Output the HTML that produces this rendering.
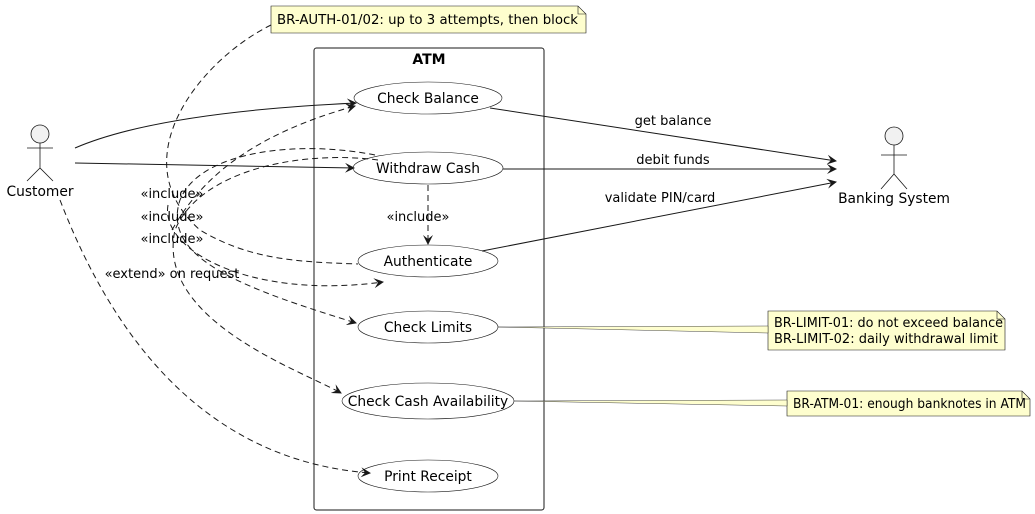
<!DOCTYPE html>
<html><head><meta charset="utf-8"><style>
body{margin:0;background:#fff;}
svg{display:block;font-family:"DejaVu Sans","Liberation Sans",sans-serif;}
</style></head><body>
<svg width="1035" height="514" viewBox="0 0 1035 514" xmlns="http://www.w3.org/2000/svg">
<defs>
<marker id="a" viewBox="0 0 10 10" refX="9" refY="5" markerWidth="10" markerHeight="10" orient="auto" markerUnits="userSpaceOnUse"><path d="M0,0 L10,5 L0,10 L4,5 Z" fill="#181818"/></marker>
</defs>
<rect x="314" y="48" width="230" height="462" rx="2.5" fill="none" stroke="#181818" stroke-width="1"/>
<text x="429" y="64" font-size="14" font-weight="bold" text-anchor="middle">ATM</text>
<path d="M271,6 H578 L586,14 V33 H271 Z" fill="#fefece" stroke="#181818" stroke-width="0.6"/>
<path d="M578,6 V14 H586" fill="none" stroke="#181818" stroke-width="0.6"/>
<text x="277" y="24" font-size="13" textLength="301" lengthAdjust="spacingAndGlyphs">BR-AUTH-01/02: up to 3 attempts, then block</text>
<path d="M768,311 H997 L1005,319 V350 H768 Z" fill="#fefece" stroke="#181818" stroke-width="0.6"/>
<path d="M997,311 V319 H1005" fill="none" stroke="#181818" stroke-width="0.6"/>
<text x="774" y="327" font-size="13" textLength="229" lengthAdjust="spacingAndGlyphs">BR-LIMIT-01: do not exceed balance</text>
<text x="774" y="343" font-size="13" textLength="224" lengthAdjust="spacingAndGlyphs">BR-LIMIT-02: daily withdrawal limit</text>
<path d="M787,391 H1022 L1030,399 V416 H787 Z" fill="#fefece" stroke="#181818" stroke-width="0.6"/>
<path d="M1022,391 V399 H1030" fill="none" stroke="#181818" stroke-width="0.6"/>
<text x="793" y="408" font-size="13" textLength="233" lengthAdjust="spacingAndGlyphs">BR-ATM-01: enough banknotes in ATM</text>
<path d="M498,327 L768,326 L768,333 Z" fill="#fefece" stroke="#181818" stroke-width="0.4"/>
<path d="M514,401 L787,400 L787,406 Z" fill="#fefece" stroke="#181818" stroke-width="0.4"/>
<g fill="#fff" stroke="#181818" stroke-width="0.6">
<ellipse cx="428" cy="98" rx="74" ry="16"/>
<ellipse cx="428" cy="168" rx="75" ry="16"/>
<ellipse cx="428" cy="261" rx="70" ry="16"/>
<ellipse cx="428" cy="327" rx="70" ry="16"/>
<ellipse cx="428" cy="401" rx="86" ry="18"/>
<ellipse cx="428" cy="476" rx="70" ry="16"/>
</g>
<g font-size="13.8" text-anchor="middle">
<text x="428" y="103">Check Balance</text>
<text x="428" y="173">Withdraw Cash</text>
<text x="428" y="266">Authenticate</text>
<text x="428" y="332">Check Limits</text>
<text x="428" y="406">Check Cash Availability</text>
<text x="428" y="481">Print Receipt</text>
</g>
<g fill="none" stroke="#181818" stroke-width="0.8">
<circle cx="40" cy="134" r="9" fill="#f1f1f1"/>
<path d="M40,143 V168 M27,148 H53 M27,181 L40,168 L53,181"/>
<circle cx="894" cy="136" r="9" fill="#f1f1f1"/>
<path d="M894,145 V174 M881,155 H907 M881,189 L894,174 L907,189"/>
</g>
<text x="40" y="196" font-size="13.8" text-anchor="middle">Customer</text>
<text x="894" y="203" font-size="13.8" text-anchor="middle">Banking System</text>
<g fill="none" stroke="#181818" stroke-width="1" marker-end="url(#a)">
<path d="M75,148 C140,120 250,108 356,103"/>
<path d="M75,163 L354,168"/>
<path d="M490,108 L836,161"/>
<path d="M503,169 L836,169"/>
<path d="M482,251 L836,182"/>
</g>
<g font-size="13" text-anchor="middle">
<text x="673" y="125">get balance</text>
<text x="673" y="164">debit funds</text>
<text x="660" y="202">validate PIN/card</text>
</g>
<g fill="none" stroke="#181818" stroke-width="1" stroke-dasharray="6,4">
<path d="M271,25 C200,60 120,160 200,230 C250,260 300,262 358,264"/>
<path d="M428,185 V244" marker-end="url(#a)"/>
<path d="M375,155 C300,140 200,150 180,200 C160,260 250,290 356,323" marker-end="url(#a)"/>
<path d="M378,160 C300,150 200,170 175,230 C155,320 300,370 341,393" marker-end="url(#a)"/>
<path d="M172,230 C200,180 250,135 355,106" marker-end="url(#a)"/>
<path d="M168,205 C160,250 250,300 383,282" marker-end="url(#a)"/>
<path d="M60,200 C110,330 200,460 370,473" marker-end="url(#a)"/>
</g>
<g font-size="13" text-anchor="middle">
<text x="172" y="198">«include»</text>
<text x="172" y="221">«include»</text>
<text x="172" y="243">«include»</text>
<text x="172" y="278">«extend» on request</text>
<text x="418" y="221">«include»</text>
</g>
</svg>
</body></html>
